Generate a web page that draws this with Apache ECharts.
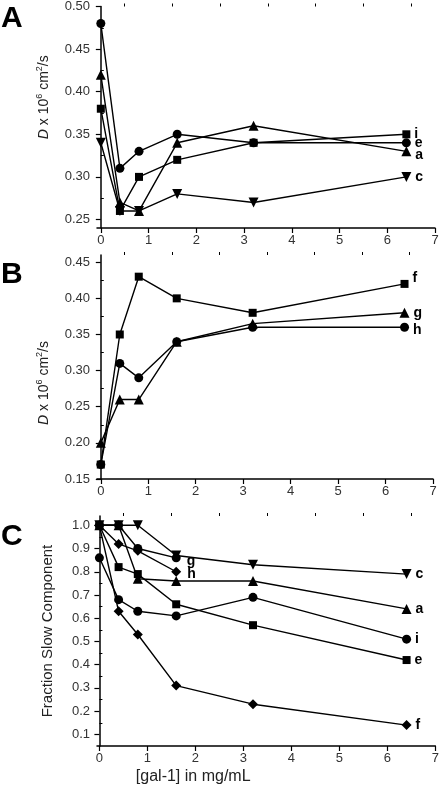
<!DOCTYPE html>
<html>
<head>
<meta charset="utf-8">
<script src="https://cdn.jsdelivr.net/npm/echarts@6/dist/echarts.min.js"></script>
<style>html,body{margin:0;padding:0;background:#fff;}#c{width:442px;height:786px;}</style>
</head>
<body>
<div id="c"></div>
<script>
// ---- data ----
const xVals = [0, 0.4, 0.8, 1.6, 3.2, 6.4];
const xTicks = [0, 1, 2, 3, 4, 5, 6, 7];
const xMinorTicks = [0.5, 1.5, 2.5, 3.5, 4.5, 5.5, 6.5];

// Panel A: D x 10^6 cm^2/s
const A_i = [0.38, 0.26, 0.30, 0.32, 0.34, 0.35];
const A_e = [0.48, 0.31, 0.33, 0.35, 0.34, 0.34];
const A_a = [0.42, 0.27, 0.26, 0.34, 0.36, 0.33];
const A_c = [0.34, 0.26, 0.26, 0.28, 0.27, 0.30];
const A_yTicks = [0.25, 0.30, 0.35, 0.40, 0.45, 0.50];
const A_yMinor = [0.275, 0.325, 0.375, 0.425, 0.475];

// Panel B
const B_f = [0.17, 0.35, 0.43, 0.40, 0.38, 0.42];
const B_g = [0.20, 0.26, 0.26, 0.34, 0.365, 0.38];
const B_h = [0.17, 0.31, 0.29, 0.34, 0.36, 0.36];
const B_yTicks = [0.15, 0.20, 0.25, 0.30, 0.35, 0.40, 0.45];
const B_yMinor = [0.175, 0.225, 0.275, 0.325, 0.375, 0.425];

// Panel C: Fraction Slow Component
const C_c = [1.0, 1.0, 1.0, 0.87, 0.83, 0.79];
const C_a = [1.0, 1.0, 0.77, 0.76, 0.76, 0.64];
const C_i = [0.86, 0.68, 0.63, 0.61, 0.69, 0.51];
const C_e = [1.0, 0.82, 0.79, 0.66, 0.57, 0.42];
const C_f = [1.0, 0.63, 0.53, 0.31, 0.23, 0.14];
const C_g = [1.0, 1.0, 0.90, 0.86];
const C_h = [1.0, 0.92, 0.89, 0.80];
const C_yTicks = [0.1, 0.2, 0.3, 0.4, 0.5, 0.6, 0.7, 0.8, 0.9, 1.0];
const C_yMinor = [0.15, 0.25, 0.35, 0.45, 0.55, 0.65, 0.75, 0.85, 0.95];

// ---- chart ----
const FONT = 'Liberation Sans, Arial, sans-serif';
const chart = echarts.init(document.getElementById('c'), null, {renderer: 'canvas'});

const grids = [
  {left: 97, top: 4, width: 338, height: 224},
  {left: 97, top: 255, width: 336, height: 224},
  {left: 97, top: 516, width: 341, height: 230}
];
const xRanges = [[-0.08, 7], [-0.08, 7], [-0.05, 7]];
const yRanges = [[0.24, 0.50], [0.15, 0.46], [0.05, 1.04]];
const yTickSets = [A_yTicks, B_yTicks, C_yTicks];
const yMinorSets = [A_yMinor, B_yMinor, C_yMinor];
const yDigits = [2, 2, 1];

const Dname = '{i|D} x 10{sup|6} cm{sup|2}/s';
const richName = {
  i: {fontStyle: 'italic', fontSize: 14, fontFamily: FONT, color: '#222'},
  sup: {fontSize: 9, fontFamily: FONT, color: '#222', verticalAlign: 'top', lineHeight: 9}
};

const xAxes = [], yAxes = [];
for (let g = 0; g < 3; g++) {
  xAxes.push({
    type: 'value', gridIndex: g, min: xRanges[g][0], max: xRanges[g][1],
    axisLine: {show: true, lineStyle: {color: '#000', width: 1.5}},
    axisTick: {show: true, customValues: xTicks, length: 5, lineStyle: {color: '#000', width: 1.2}},
    axisLabel: {customValues: xTicks, fontSize: 13, color: '#333', fontFamily: FONT, margin: 6,
      formatter: v => String(Math.round(v))},
    splitLine: {show: false},
    name: g === 2 ? '[gal-1] in mg/mL' : '',
    nameLocation: 'middle', nameGap: 23,
    nameTextStyle: {fontSize: 16, color: '#222', fontFamily: FONT, padding: [0, 146, 0, 0]}
  });
  xAxes.push({
    type: 'value', gridIndex: g, min: xRanges[g][0], max: xRanges[g][1],
    axisLine: {show: false},
    axisTick: {show: true, customValues: xMinorTicks, length: 3, lineStyle: {color: '#000', width: 1}},
    axisLabel: {show: false}, splitLine: {show: false}
  });
  const dig = yDigits[g];
  yAxes.push({
    type: 'value', gridIndex: g, min: yRanges[g][0], max: yRanges[g][1],
    axisLine: {show: true, lineStyle: {color: '#000', width: 1.5}},
    axisTick: {show: true, customValues: yTickSets[g], length: 5, lineStyle: {color: '#000', width: 1.2}},
    axisLabel: {customValues: yTickSets[g], fontSize: 13, color: '#333', fontFamily: FONT, margin: 7,
      formatter: v => v.toFixed(dig)},
    splitLine: {show: false},
    name: g === 2 ? 'Fraction Slow Component' : Dname,
    nameLocation: 'middle', nameRotate: 90,
    nameGap: g === 2 ? 42 : 44,
    nameTextStyle: g === 2
      ? {fontSize: 15, color: '#222', fontFamily: FONT}
      : {fontSize: 14, color: '#222', fontFamily: FONT, lineHeight: 18, rich: richName,
         padding: g === 0 ? [0, 0, 0, 40] : [0, 32, 0, 0]}
  });
  yAxes.push({
    type: 'value', gridIndex: g, min: yRanges[g][0], max: yRanges[g][1],
    axisLine: {show: false},
    axisTick: {show: true, customValues: yMinorSets[g], length: 3, lineStyle: {color: '#000', width: 1}},
    axisLabel: {show: false}, splitLine: {show: false}
  });
}

function mk(label, vals, g, symbol, size, rot, off) {
  const data = vals.map((v, k) => ({value: [xVals[k], v]}));
  data[data.length - 1].label = {
    show: true, position: 'right', distance: 4, offset: off || [0, 0],
    formatter: label, fontWeight: 'bold', fontSize: 14, color: '#000', fontFamily: FONT
  };
  return {
    type: 'line', name: label + g, xAxisIndex: g * 2, yAxisIndex: g * 2, data: data,
    symbol: symbol, symbolSize: size, symbolRotate: rot || 0,
    showAllSymbol: true,
    lineStyle: {color: '#000', width: 1.4},
    itemStyle: {color: '#000', borderWidth: 0},
    emphasis: {disabled: true},
    label: {show: false},
    animation: false
  };
}

const series = [
  mk('i', A_i, 0, 'rect', 8, 0),
  mk('e', A_e, 0, 'circle', 9, 0),
  mk('a', A_a, 0, 'triangle', 10, 0, [0, 4]),
  mk('c', A_c, 0, 'triangle', 10, 180),
  mk('f', B_f, 1, 'rect', 8, 0, [0, -6]),
  mk('g', B_g, 1, 'triangle', 10, 0),
  mk('h', B_h, 1, 'circle', 9, 0, [0, 3]),
  mk('c', C_c, 2, 'triangle', 10, 180),
  mk('a', C_a, 2, 'triangle', 10, 0),
  mk('i', C_i, 2, 'circle', 9, 0),
  mk('e', C_e, 2, 'rect', 8, 0),
  mk('f', C_f, 2, 'diamond', 10, 0),
  mk('g', C_g, 2, 'circle', 9, 0, [2, 3]),
  mk('h', C_h, 2, 'diamond', 10, 0, [2, 2])
];

const titleStyle = {fontSize: 30, fontWeight: 'bold', color: '#000', fontFamily: FONT};
chart.setOption({
  backgroundColor: '#fff',
  animation: false,
  title: [
    {text: 'A', left: 1, top: 4, padding: 0, textStyle: titleStyle},
    {text: 'B', left: 1, top: 260, padding: 0, textStyle: titleStyle},
    {text: 'C', left: 1, top: 522, padding: 0, textStyle: titleStyle}
  ],
  grid: grids,
  xAxis: xAxes,
  yAxis: yAxes,
  series: series
});
</script>
</body>
</html>
